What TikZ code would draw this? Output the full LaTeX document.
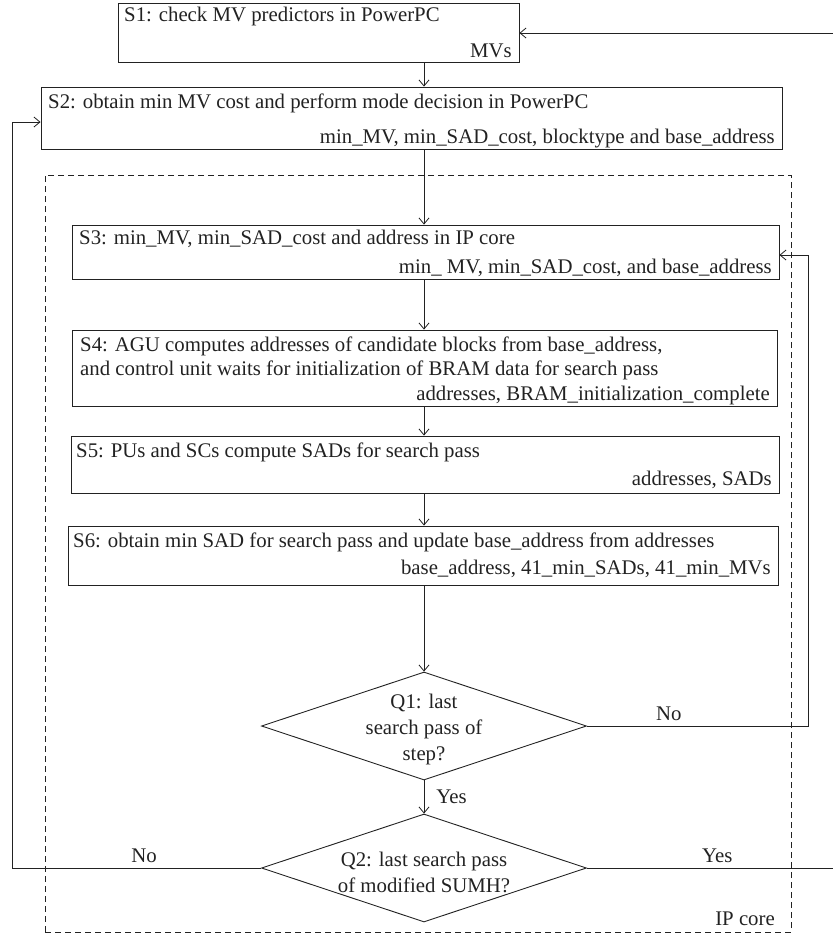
\documentclass[tikz,border=0pt]{standalone}
\usepackage{fontspec}
\setmainfont{Liberation Serif}
\usetikzlibrary{shapes.geometric,arrows.meta}
\definecolor{ink}{HTML}{222222}
\tikzset{
  stepbox/.style={draw=ink, line width=0.9pt, inner sep=0pt, rectangle},
  decbox/.style={draw=ink, line width=0.9pt, inner sep=0pt, diamond},
  txt/.style={inner sep=0pt, text=ink, font=\fontsize{20.8}{26}\selectfont},
  conn/.style={draw=ink, line width=0.9pt},
  arr/.style={conn, -{Straight Barb[length=6pt,width=10pt,line width=0.8pt]}},
}
\begin{document}
\begin{tikzpicture}[x=1pt,y=-1pt]
\useasboundingbox (0,0) rectangle (833,946);
% IP core frame
\node[draw=ink, dashed, dash pattern=on 6pt off 4pt, line width=0.7pt, inner sep=0pt,
      minimum width=746pt, minimum height=757pt] (ip) at (418,553.5) {};
\node[txt, anchor=base east] (iplab) at (775,925) {IP core};

% boxes
\node[stepbox, minimum width=401pt, minimum height=59pt] (S1) at (318.5,32.5) {};
\node[stepbox, minimum width=741pt, minimum height=62pt] (S2) at (411.5,118) {};
\node[stepbox, minimum width=707pt, minimum height=54pt] (S3) at (425.5,252) {};
\node[stepbox, minimum width=705pt, minimum height=76pt] (S4) at (425,368) {};
\node[stepbox, minimum width=708pt, minimum height=57pt] (S5) at (425,464.5) {};
\node[stepbox, minimum width=710pt, minimum height=59pt] (S6) at (423.5,555.5) {};
\node[decbox, minimum width=325pt, minimum height=108pt] (Q1) at (424,726) {};
\node[decbox, minimum width=325pt, minimum height=108pt] (Q2) at (424,868) {};

% texts
\node[txt, anchor=base west] (t1a) at (124,21) {S1: check MV predictors in PowerPC};
\node[txt, anchor=base east] (t1b) at (512,57) {MVs};
\node[txt, anchor=base west] (t2a) at (48,108) {S2: obtain min MV cost and perform mode decision in PowerPC};
\node[txt, anchor=base east] (t2b) at (775,143) {min\_MV, min\_SAD\_cost, blocktype and base\_address};
\node[txt, anchor=base west] (t3a) at (79,244) {S3: min\_MV, min\_SAD\_cost and address in IP core};
\node[txt, anchor=base east] (t3b) at (772,273) {min\_ MV, min\_SAD\_cost, and base\_address};
\node[txt, anchor=base west] (t4a) at (80,351) {S4: AGU computes addresses of candidate blocks from base\_address,};
\node[txt, anchor=base west] (t4b) at (80,375) {and control unit waits for initialization of BRAM data for search pass};
\node[txt, anchor=base east] (t4c) at (770,400) {addresses, BRAM\_initialization\_complete};
\node[txt, anchor=base west] (t5a) at (76,457) {S5: PUs and SCs compute SADs for search pass};
\node[txt, anchor=base east] (t5b) at (772,485) {addresses, SADs};
\node[txt, anchor=base west] (t6a) at (73,547) {S6: obtain min SAD for search pass and update base\_address from addresses};
\node[txt, anchor=base east] (t6b) at (771,574) {base\_address, 41\_min\_SADs, 41\_min\_MVs};
\node[txt, align=center] (tq1) at (424,729) {Q1: last\\search pass of\\step?};
\node[txt, align=center] (tq2) at (424,872) {Q2: last search pass\\of modified SUMH?};

% coordinates
\coordinate (ax) at (424,0);
\coordinate (in) at (833,33);
\coordinate (lft) at (12,122);
\coordinate (rgt) at (808,255);
\coordinate (out) at (833,868);

% connectors
\draw[arr] (in) -- (in -| S1.east);
\draw[arr] (S1.south -| ax) -- (S2.north -| ax);
\draw[arr] (S2.south -| ax) -- (S3.north -| ax);
\draw[arr] (S3.south -| ax) -- (S4.north -| ax);
\draw[arr] (S4.south -| ax) -- (S5.north -| ax);
\draw[arr] (S5.south -| ax) -- (S6.north -| ax);
\draw[arr] (S6.south -| ax) -- (Q1.north);
\draw[arr] (Q1.south) -- node[txt, right=12pt, pos=0.5] (yes1) {Yes} (Q2.north);
\draw[arr] (Q1.east) -- node[txt, above=5pt, pos=0.37] (no1) {No} (Q1.east -| rgt) -- (rgt) -- (rgt -| S3.east);
\draw[arr] (Q2.west) -- node[txt, above=5pt, pos=0.47] (no2) {No} (Q2.west -| lft) -- (lft) -- (lft -| S2.west);
\draw[conn] (Q2.east) -- node[txt, above=5pt, pos=0.53] (yes2) {Yes} (out);
\end{tikzpicture}
\end{document}
